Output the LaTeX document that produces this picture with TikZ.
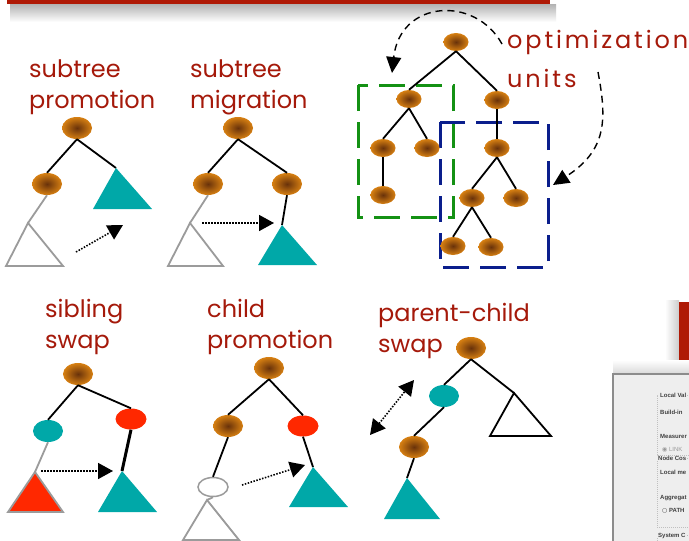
\documentclass[tikz,border=0pt]{standalone}
\usepackage{fontspec}
\setmainfont{Poppins}
\newfontfamily\guifont{Liberation Sans}
\newfontfamily\symfont{DejaVu Sans}
\newfontfamily\widefont[LetterSpace=12]{Poppins}
\usetikzlibrary{arrows.meta}
\usetikzlibrary{shapes.geometric}

\definecolor{labelred}{RGB}{165,25,10}
\definecolor{bannerred}{RGB}{175,25,5}
\definecolor{unitorange}{RGB}{215,128,18}
\definecolor{unitbrown}{RGB}{105,50,10}
\definecolor{tealfill}{RGB}{0,168,168}
\definecolor{redfill}{RGB}{255,40,0}
\definecolor{linegray}{RGB}{155,155,155}
\definecolor{unitgreen}{RGB}{20,145,20}
\definecolor{unitblue}{RGB}{10,30,140}
\definecolor{guigray}{RGB}{238,238,238}

\tikzset{
  treenode/.style={ellipse, shading=radial, inner color=unitbrown, outer color=unitorange,
                   minimum width=30pt, minimum height=22pt, inner sep=0pt},
  smallnode/.style={treenode, minimum width=25pt, minimum height=18pt},
  tealnode/.style={ellipse, fill=tealfill, minimum width=30pt, minimum height=22pt, inner sep=0pt},
  rednode/.style={ellipse, fill=redfill, minimum width=31pt, minimum height=21pt, inner sep=0pt},
  hollownode/.style={ellipse, draw=linegray, line width=1.5pt, fill=white,
                     minimum width=30pt, minimum height=19pt, inner sep=0pt},
  oplabel/.style={font=\fontsize{24}{31}\selectfont, text=labelred, align=left,
                  anchor=base west, inner sep=0pt},
  tealtree/.style={fill=tealfill},
  oldtree/.style={draw=linegray, line width=1.8pt, line join=miter},
  redtree/.style={fill=redfill, draw=linegray, line width=1.8pt},
  opentree/.style={draw=black, line width=1.8pt},
  move/.style={dash pattern=on 1.5pt off 1.5pt, line width=1.6pt, -{Triangle[length=15pt,width=16pt]}},
  swapmove/.style={move, {Triangle[length=15pt,width=16pt]}-{Triangle[length=15pt,width=16pt]}},
  hint/.style={dash pattern=on 7pt off 5pt, line width=1.4pt, -{Triangle[length=16pt,width=15pt]}},
  unitbox/.style={dash pattern=on 26pt off 11pt, line width=3pt},
  guitext/.style={font=\guifont\bfseries\fontsize{6}{7}\selectfont, anchor=base west,
                  inner sep=0pt, text=black!75},
  panelline/.style={draw=black!25, line width=0.6pt, dash pattern=on 1pt off 1pt}
}

\begin{document}
\begin{tikzpicture}[x=1pt, y=-1pt]
  \clip (0,0) rectangle (689,541);
  \fill[white] (0,0) rectangle (689,541);

  % slide title bar and the next slide peeking in
  \shade[top color=black!30, bottom color=white] (10,4) rectangle (556,22);
  \fill[bannerred] (7,0) rectangle (550,4);
  \shade[left color=white, right color=black!20] (665,300) rectangle (679,366);
  \fill[bannerred] (679,302) rectangle (689,360);

  % subtree promotion
  \node[oplabel] (a-lab) at (29,108) {subtree\\promotion};
  \node[treenode] (a1) at (77,128) {};
  \node[treenode] (a2) at (47,184) {};
  \coordinate (a3) at (116,168);
  \coordinate (a4) at (28,223);
  \coordinate (a5) at (76,252);
  \coordinate (a6) at (123,225);
  \begin{scope}[every edge/.style={draw=black, line width=1.8pt}]
    \path (a1.south) edge (a2.north);
    \path (a1.south) edge (a3);
    \path (a2.south) edge[draw=linegray] (a4);
  \end{scope}
  \fill[tealtree] (a3) -- ++(-23,41) -- ++(59,0) -- cycle;
  \draw[oldtree] (a4) -- ++(-22,43) -- ++(57,0) -- cycle;
  \draw[move] (a5) -- (a6);

  % subtree migration
  \node[oplabel] (b-lab) at (190,108) {subtree\\migration};
  \node[treenode] (b1) at (238,128) {};
  \node[treenode] (b2) at (208,184) {};
  \node[treenode] (b3) at (287,184) {};
  \coordinate (b4) at (282,225);
  \coordinate (b5) at (190,223);
  \coordinate (b6) at (202,223);
  \coordinate (b7) at (274,223);
  \begin{scope}[every edge/.style={draw=black, line width=1.8pt}]
    \path (b1.south) edge (b2.north);
    \path (b1.south) edge (b3.north);
    \path (b3.south) edge (b4);
    \path (b2.south) edge[draw=linegray] (b5);
  \end{scope}
  \fill[tealtree] (b4) -- ++(-24,40) -- ++(59,0) -- cycle;
  \draw[oldtree] (b5) -- ++(-22,43) -- ++(55,0) -- cycle;
  \draw[move] (b6) -- (b7);

  % optimization units
  \draw[unitbox, draw=unitgreen] (358,85) rectangle (453,217);
  \draw[unitbox, draw=unitblue] (440,122) rectangle (548,267);
  \begin{scope}[every node/.style={smallnode}]
    \node (c1) at (456,42) {};
    \node (c2) at (409,99) {};
    \node (c3) at (497,100) {};
    \node (c4) at (383,148) {};
    \node (c5) at (427,148) {};
    \node (c6) at (383,195) {};
    \node (c7) at (497,148) {};
    \node (c8) at (472,198) {};
    \node (c9) at (516,198) {};
    \node (c10) at (453,246) {};
    \node (c11) at (491,247) {};
  \end{scope}
  \begin{scope}[every edge/.style={draw=black, line width=1.8pt}]
    \path (c1.south) edge (c2.north);
    \path (c1.south) edge (c3.north);
    \path (c2.south) edge (c4.north);
    \path (c2.south) edge (c5.north);
    \path (c4.south) edge (c6.north);
    \path (c3.south) edge (c7.north);
    \path (c7.south) edge (c8.north);
    \path (c7.south) edge (c9.north);
    \path (c8.south) edge (c10.north);
    \path (c8.south) edge (c11.north);
  \end{scope}
  \node[oplabel, font=\widefont\fontsize{24}{31}\selectfont] (c-lab) at (507,87) {optimization\\[8pt]units};
  \coordinate (c-s1) at (502,44);
  \coordinate (c-e1) at (392,73);
  \coordinate (c-s2) at (598,72);
  \coordinate (c-e2) at (553,185);
  \draw[hint] (c-s1) .. controls (475,-5) and (400,0) .. (c-e1);
  \draw[hint] (c-s2) .. controls (607,120) and (607,150) .. (c-e2);

  % sibling swap
  \node[oplabel] (d-lab) at (45,348) {sibling\\swap};
  \node[treenode] (d1) at (78,374) {};
  \node[tealnode] (d2) at (48,431) {};
  \node[rednode] (d3) at (131,419) {};
  \coordinate (d4) at (35,472);
  \coordinate (d5) at (122,471);
  \coordinate (d6) at (41,471);
  \coordinate (d7) at (113,471);
  \begin{scope}[every edge/.style={draw=black, line width=1.8pt}]
    \path (d1.south) edge (d2.north);
    \path (d1.south) edge (d3.north);
    \path (d3.south) edge[line width=3pt] (d5);
    \path (d2.south) edge[draw=linegray] (d4);
  \end{scope}
  \draw[redtree] (d4) -- ++(-27,40) -- ++(55,0) -- cycle;
  \fill[tealtree] (d5) -- ++(-24,41) -- ++(59,0) -- cycle;
  \draw[move] (d6) -- (d7);

  % child promotion
  \node[oplabel] (e-lab) at (207,348) {child\\promotion};
  \node[treenode] (e1) at (269,368) {};
  \node[treenode] (e2) at (228,426) {};
  \node[rednode] (e3) at (303,426) {};
  \node[hollownode] (e4) at (213,487) {};
  \coordinate (e5) at (207,500);
  \coordinate (e6) at (313,467);
  \coordinate (e7) at (242,485);
  \coordinate (e8) at (305,465);
  \begin{scope}[every edge/.style={draw=black, line width=1.8pt}]
    \path (e1.south) edge (e2.north);
    \path (e1.south) edge (e3.north);
    \path (e2.south) edge (e4.north);
    \path (e3.south) edge (e6);
    \path (e4.south) edge[draw=linegray] (e5);
  \end{scope}
  \draw[oldtree] (e5) -- ++(-24,40) -- ++(56,0) -- cycle;
  \fill[tealtree] (e6) -- ++(-24,40) -- ++(59,0) -- cycle;
  \draw[move] (e7) -- (e8);

  % parent-child swap
  \node[oplabel] (f-lab) at (378,352) {parent-child\\swap};
  \node[treenode] (f1) at (471,348) {};
  \node[tealnode] (f2) at (444,396) {};
  \node[treenode] (f3) at (414,447) {};
  \coordinate (f4) at (407,478);
  \coordinate (f5) at (514,393);
  \coordinate (f6) at (370,435);
  \coordinate (f7) at (414,380);
  \begin{scope}[every edge/.style={draw=black, line width=1.8pt}]
    \path (f1.south) edge (f2.north);
    \path (f2.south) edge (f3.north);
    \path (f3.south) edge (f4);
    \path (f1.south) edge (f5);
  \end{scope}
  \fill[tealtree] (f4) -- ++(-23,41) -- ++(56,0) -- cycle;
  \draw[opentree] (f5) -- ++(-24,43) -- ++(61,0) -- cycle;
  \draw[swapmove] (f6) -- (f7);

  % settings window, cut off at the edge
  \shade[top color=white, bottom color=black!15] (613,360) rectangle (700,374);
  \draw[draw=black!45, line width=2pt, fill=guigray] (613,374) rectangle (700,560);
  \draw[panelline] (700,395) -- (657,395) -- (657,455) -- (700,455);
  \draw[panelline] (700,458) -- (657,458) -- (657,527) -- (700,527);
  \draw[panelline] (700,535) -- (657,535) -- (657,545);
  \node[guitext, fill=guigray, inner xsep=1pt] (g1) at (659,397) {Local Val};
  \node[guitext] (g2) at (660,414) {Build-in};
  \node[guitext] (g3) at (660,438) {Measurer};
  \node[guitext, text=black!40, font=\guifont\fontsize{6}{7}\selectfont] (g4) at (662,451) {{\symfont ◉} LINK};
  \node[guitext, fill=guigray, inner xsep=1pt] (g5) at (657,460) {Node Cos};
  \node[guitext] (g6) at (660,474) {Local me};
  \node[guitext] (g7) at (660,499) {Aggregat};
  \node[guitext] (g8) at (662,512) {{\symfont\mdseries ○} PATH};
  \node[guitext, fill=guigray, inner xsep=1pt] (g9) at (657,537) {System C};
\end{tikzpicture}
\end{document}
